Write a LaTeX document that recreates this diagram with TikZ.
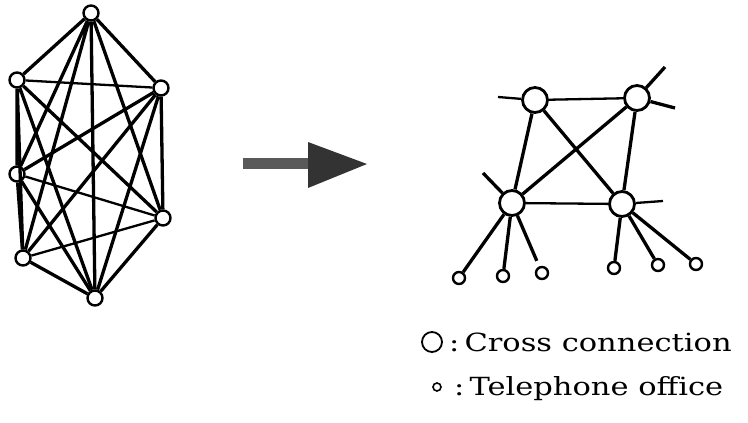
\documentclass[tikz,border=0pt]{standalone}
\usepackage{graphicx}
\usepackage{fontspec}
\setmainfont{DejaVu Serif}
\usepackage{tikz}

\begin{document}
\begin{tikzpicture}[x=1pt,y=-1pt,
    vtx/.style={circle,draw,fill=white,line width=2.4pt,minimum size=15pt,inner sep=0pt},
    cross/.style={circle,draw,fill=white,line width=2.8pt,minimum size=25pt,inner sep=0pt},
    office/.style={circle,draw,fill=white,line width=2.4pt,minimum size=12pt,inner sep=0pt},
    edge/.style={line width=3.3pt},
    thinedge/.style={line width=2.3pt}]
\useasboundingbox (0,0) rectangle (748,423);

% fully meshed network
\node[vtx] (v1) at (91,13) {};
\node[vtx] (v2) at (17,80) {};
\node[vtx] (v3) at (161,88) {};
\node[vtx] (v4) at (17,174) {};
\node[vtx] (v5) at (163,218) {};
\node[vtx] (v6) at (23,258) {};
\node[vtx] (v7) at (95,298) {};

\draw [edge] (v1) -- (v2) (v1) -- (v3) (v1) -- (v4) (v1) -- (v5) (v1) -- (v6) (v1) -- (v7);
\draw [edge] (v2) -- (v4) (v2) -- (v5) (v2) -- (v6) (v2) -- (v7);
\draw [edge] (v3) -- (v4) (v3) -- (v5) (v3) -- (v6) (v3) -- (v7);
\draw [edge] (v4) -- (v6) (v4) -- (v7) (v5) -- (v7) (v6) -- (v7);
\draw [thinedge] (v2) -- (v3) (v4) -- (v5) (v6) -- (v5);

% big arrow
\fill [black!65] (243,158) rectangle (312,169);
\fill [black!80] (308,142) -- (367,164) -- (308,188) -- cycle;

% cross connection network
\node[cross] (c1) at (535,100) {};
\node[cross] (c2) at (637,98) {};
\node[cross] (c3) at (512,203) {};
\node[cross] (c4) at (622,204) {};

\node[office] (o1) at (459,278) {};
\node[office] (o2) at (503,276) {};
\node[office] (o3) at (542,273) {};
\node[office] (o4) at (614,268) {};
\node[office] (o5) at (658,265) {};
\node[office] (o6) at (696,264) {};

\coordinate (s1) at (498,97);
\coordinate (s2) at (665,67);
\coordinate (s3) at (675,108);
\coordinate (s4) at (483,173);
\coordinate (s5) at (663,201);

\draw [thinedge] (c1) -- (c2) (c3) -- (c4);
\draw [edge] (c1) -- (c3) (c1) -- (c4) (c2) -- (c3) (c2) -- (c4);
\draw [thinedge] (c1) -- (s1) (c4) -- (s5);
\draw [edge] (c2) -- (s2) (c2) -- (s3) (c3) -- (s4);
\draw [edge] (c3) -- (o1);
\draw [edge,shorten >=6pt] (c3) -- (o2) (c3) -- (o3);
\draw [edge] (c4) -- (o4) (c4) -- (o5) (c4) -- (o6);

% legend
\node[circle,draw,line width=1.8pt,minimum size=20pt,inner sep=0pt] (k1) at (432,342) {};
\node[circle,draw,line width=1.6pt,minimum size=8pt,inner sep=0pt] (k2) at (437,387) {};
\node[anchor=base west,inner sep=0pt] (t1) at (449,351)
  {\scalebox{1.22}[1]{\fontsize{25}{30}\selectfont :\,Cross connection}};
\node[anchor=base west,inner sep=0pt] (t2) at (454,395)
  {\scalebox{1.22}[1]{\fontsize{25}{30}\selectfont :\,Telephone office}};

\end{tikzpicture}
\end{document}
